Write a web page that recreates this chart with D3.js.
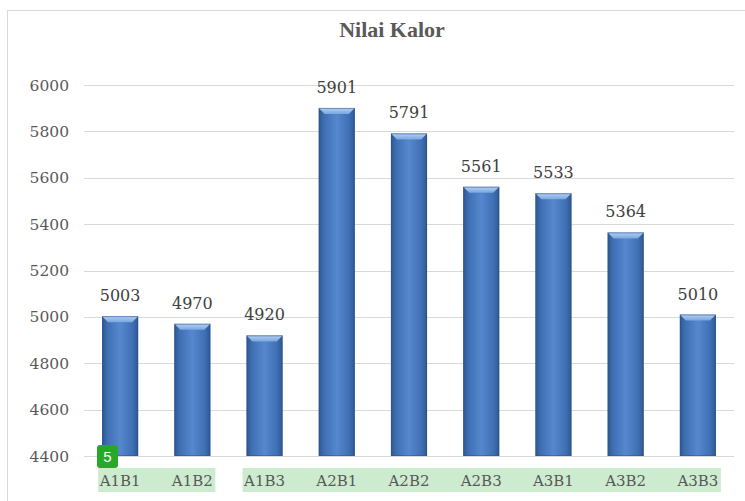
<!DOCTYPE html>
<html>
<head>
<meta charset="utf-8">
<script src="https://cdn.jsdelivr.net/npm/d3@7"></script>
<style>
  body { margin: 0; background: #fff; }
  .grid line { stroke: #d9d9d9; stroke-width: 1; }
  .ylab { font-family: "DejaVu Serif", "Liberation Serif", serif; font-size: 15.5px; fill: #595959; }
  .xlab { font-family: "DejaVu Serif", "Liberation Serif", serif; font-size: 15px; fill: #595959; }
  .val { font-family: "DejaVu Serif", "Liberation Serif", serif; font-size: 16px; fill: #404040; }
  .title { font-family: "Liberation Serif", serif; font-size: 22px; font-weight: bold; fill: #595959; }
</style>
</head>
<body>
<div id="chart-area"></div>
<script>
// bar chart of heating value per treatment

const WIDTH = 745;
const HEIGHT = 501;

const categories = ["A1B1", "A1B2", "A1B3", "A2B1", "A2B2", "A2B3", "A3B1", "A3B2", "A3B3"];
const values = [5003, 4970, 4920, 5901, 5791, 5561, 5533, 5364, 5010];
const yTicks = [4400, 4600, 4800, 5000, 5200, 5400, 5600, 5800, 6000];

let svg = d3.select("#chart-area").append("svg")
    .attr("width", WIDTH)
    .attr("height", HEIGHT);

// chart frame
svg.append("rect")
    .attr("x", 7.5).attr("y", 10.5)
    .attr("width", WIDTH - 4).attr("height", HEIGHT - 4)
    .attr("fill", "#fff")
    .attr("stroke", "#d9d9d9");

svg.append("text")
    .attr("class", "title")
    .attr("x", 392).attr("y", 37)
    .attr("text-anchor", "middle")
    .text("Nilai Kalor");

let x = d3.scaleBand()
    .domain(categories)
    .range([84, 734])
    .paddingInner(0.5)
    .paddingOuter(0.25);

let y = d3.scaleLinear()
    .domain([4400, 6000])
    .range([456, 85]);

// gradients for the bevelled bars
let defs = svg.append("defs");
let hg = defs.append("linearGradient").attr("id", "barH")
    .attr("x1", "0").attr("x2", "1").attr("y1", "0").attr("y2", "0");
hg.append("stop").attr("offset", "0").attr("stop-color", "#2d5791");
hg.append("stop").attr("offset", "0.15").attr("stop-color", "#3f6fb3");
hg.append("stop").attr("offset", "0.5").attr("stop-color", "#5688cf");
hg.append("stop").attr("offset", "0.85").attr("stop-color", "#3f6fb3");
hg.append("stop").attr("offset", "1").attr("stop-color", "#2d5791");

let tg = defs.append("linearGradient").attr("id", "barTop")
    .attr("x1", "0").attr("x2", "0").attr("y1", "0").attr("y2", "1");
tg.append("stop").attr("offset", "0").attr("stop-color", "#b4d0f2");
tg.append("stop").attr("offset", "1").attr("stop-color", "#7aa6e0");

// gridlines
svg.append("g").attr("class", "grid")
    .selectAll("line").data(yTicks).enter().append("line")
    .attr("x1", 84).attr("x2", 734)
    .attr("y1", d => Math.round(y(d)) + 0.5)
    .attr("y2", d => Math.round(y(d)) + 0.5);

svg.selectAll(".ylab").data(yTicks).enter().append("text")
    .attr("class", "ylab")
    .attr("x", 69)
    .attr("y", d => y(d) + 5.5)
    .attr("text-anchor", "end")
    .text(d => d);

// green highlights behind category labels
const highlights = [["A1B1", "A1B2"], ["A1B3", "A3B3"]];
const mid = c => x(c) + x.bandwidth() / 2;
svg.selectAll(".hl").data(highlights).enter().append("rect")
    .attr("class", "hl")
    .attr("x", d => mid(d[0]) - 22)
    .attr("y", 468)
    .attr("width", d => mid(d[1]) - mid(d[0]) + 45)
    .attr("height", 24)
    .attr("fill", "#cdeccf");

let bars = svg.selectAll(".bar").data(values).enter().append("g").attr("class", "bar");
const bevel = 6;
bars.append("rect")
    .attr("x", (d, i) => x(categories[i]))
    .attr("y", d => y(d))
    .attr("width", x.bandwidth())
    .attr("height", d => y(4400) - y(d))
    .attr("fill", "url(#barH)");
bars.append("path")
    .attr("d", (d, i) => {
        let x0 = x(categories[i]), x1 = x0 + x.bandwidth(), t = y(d);
        return `M${x0},${t}L${x1},${t}L${x1 - bevel},${t + bevel}L${x0 + bevel},${t + bevel}Z`;
    })
    .attr("fill", "url(#barTop)");
bars.append("rect")
    .attr("x", (d, i) => x(categories[i]) + 0.5)
    .attr("y", d => y(d) + 0.5)
    .attr("width", x.bandwidth() - 1)
    .attr("height", d => y(4400) - y(d) - 1)
    .attr("fill", "none")
    .attr("stroke", "#2a5189")
    .attr("stroke-opacity", 0.5);

svg.selectAll(".val").data(values).enter().append("text")
    .attr("class", "val")
    .attr("x", (d, i) => x(categories[i]) + x.bandwidth() / 2)
    .attr("y", d => y(d) - 15)
    .attr("text-anchor", "middle")
    .text(d => d);

svg.selectAll(".xlab").data(categories).enter().append("text")
    .attr("class", "xlab")
    .attr("x", d => mid(d))
    .attr("y", 486)
    .attr("text-anchor", "middle")
    .text(d => d);

// little green marker badge
svg.append("rect")
    .attr("x", 97).attr("y", 445)
    .attr("width", 21).attr("height", 23)
    .attr("rx", 3)
    .attr("fill", "#28a828");
svg.append("text")
    .attr("x", 107.5).attr("y", 462)
    .attr("text-anchor", "middle")
    .attr("font-family", "Liberation Sans, sans-serif")
    .attr("font-size", 15)
    .attr("fill", "#fff")
    .text("5");
</script>
</body>
</html>
